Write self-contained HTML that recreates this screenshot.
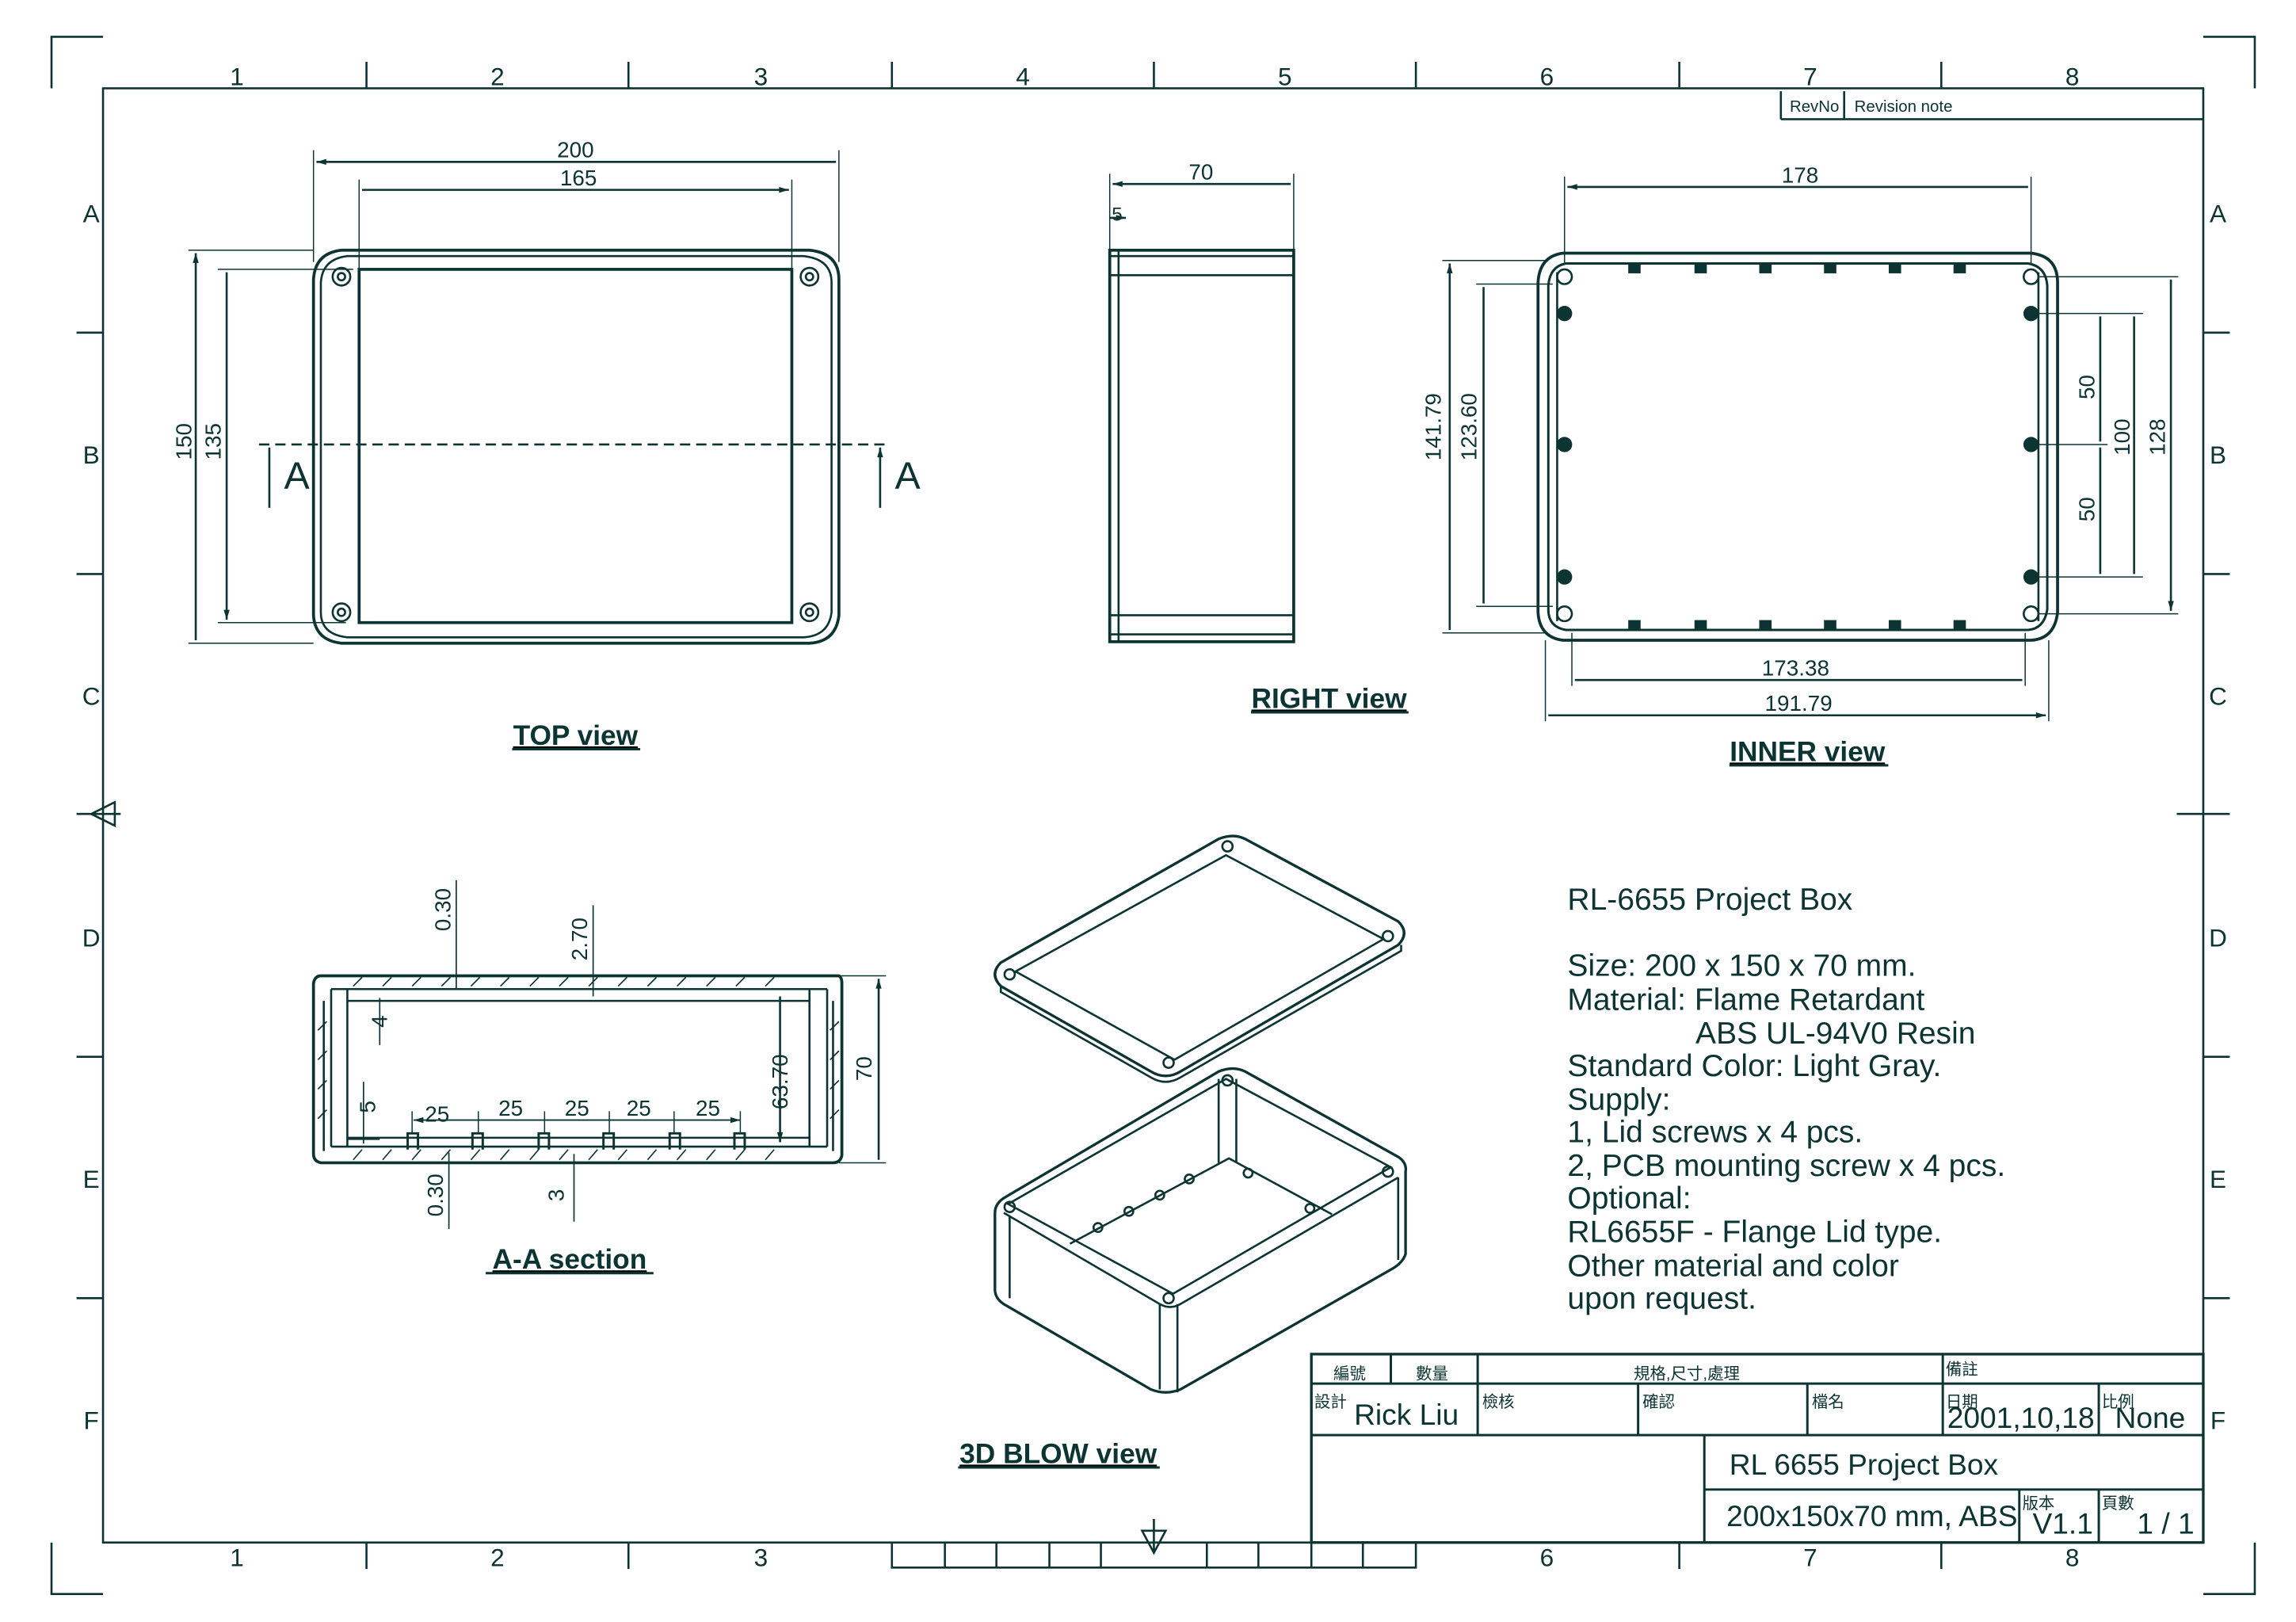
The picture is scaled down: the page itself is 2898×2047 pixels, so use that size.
<!DOCTYPE html>
<html><head><meta charset="utf-8"><style>
html,body{margin:0;padding:0;background:#fff;}
svg{display:block;}
text{font-family:"Liberation Sans","Noto Sans CJK TC",sans-serif;fill:#0c3432;}
</style></head><body>
<svg width="2898" height="2047" viewBox="0 0 1560 1102" preserveAspectRatio="none" xmlns="http://www.w3.org/2000/svg">
<defs>
<marker id="ar" viewBox="0 0 10 6" refX="10" refY="3" markerWidth="8" markerHeight="4" orient="auto-start-reverse" markerUnits="userSpaceOnUse"><path d="M0,0 L10,3 L0,6z" fill="#0c3432"/></marker>
</defs>
<g stroke="#0c3432" fill="none" stroke-width="1.4">
<!-- corner marks -->
<path d="M35,60 V25 H70 M1497,25 H1532 V60 M35,1048 V1083 H70 M1497,1083 H1532 V1048"/>
<!-- frame -->
<rect x="70" y="60" width="1427" height="988"/>
<!-- top/bottom ticks -->
<path d="M249,42V60 M427,42V60 M606,42V60 M784,42V60 M962,42V60 M1141,42V60 M1319,42V60"/>
<path d="M249,1048V1066 M427,1048V1066 M1141,1048V1066 M1319,1048V1066"/>
<path d="M606,1048V1065H962V1048 M642,1048V1065 M677,1048V1065 M713,1048V1065 M748,1048V1065 M820,1048V1065 M855,1048V1065 M891,1048V1065 M926,1048V1065"/>
<path d="M784,1032V1055 M776,1040L784,1055L792,1040Z"/>
<!-- side ticks -->
<path d="M52,226H70 M52,390H70 M52,718H70 M52,882H70 M1497,226H1515 M1497,390H1515 M1497,718H1515 M1497,882H1515 M1479,553H1515"/>
<path d="M52,553H82 M62,553L78,545V561Z"/>
<!-- rev table -->
<path d="M1210,81V62 M1210,81H1497 M1253,62V81"/>

<!-- TOP view -->
<path d="M232,170H550 Q570,172 570,190 V418 Q568,436 550,437 H232 Q214,435 213,418 V190 Q214,172 232,170Z" stroke-width="2"/>
<path d="M236,174H546 Q565,176 565,192 V416 Q563,432 546,433 H236 Q218,431 218,416 V192 Q219,176 236,174Z"/>
<rect x="244" y="183" width="294" height="240" stroke-width="2"/>
<g><circle cx="232" cy="188" r="6"/><circle cx="232" cy="188" r="2.5"/><circle cx="550" cy="188" r="6"/><circle cx="550" cy="188" r="2.5"/><circle cx="232" cy="416" r="6"/><circle cx="232" cy="416" r="2.5"/><circle cx="550" cy="416" r="6"/><circle cx="550" cy="416" r="2.5"/></g>
<path d="M213,102V178 M570,102V178 M244,122V183 M538,122V183" stroke-width="0.8"/>
<path d="M215,110H568 M246,129H536" marker-start="url(#ar)" marker-end="url(#ar)"/>
<path d="M128,170H213 M148,183H240 M128,437H213 M148,423H235" stroke-width="0.8"/>
<path d="M133,172V435 M154,185V421" marker-start="url(#ar)" marker-end="url(#ar)"/>
<path d="M176,302H605" stroke-dasharray="7,4"/>
<path d="M183,345V304 M598,345V304" marker-end="url(#ar)"/>

<!-- RIGHT view -->
<rect x="754" y="170" width="125" height="266" stroke-width="2"/>
<path d="M754,187H879 M754,174H879 M754,418H879 M754,431H879 M760,170V436"/>
<path d="M754,118V170 M879,118V170" stroke-width="0.8"/>
<path d="M756,125H877 M754,148H765" marker-start="url(#ar)" marker-end="url(#ar)"/>

<!-- INNER view -->
<path d="M1062,172H1380 Q1398,174 1398,192 V416 Q1396,434 1380,435 H1062 Q1046,433 1045,416 V192 Q1046,174 1062,172Z" stroke-width="2"/>
<path d="M1064,179H1378 Q1390,181 1391,194 V414 Q1389,427 1378,428 H1064 Q1052,426 1052,414 V194 Q1053,181 1064,179Z" stroke-width="1.6"/>
<path d="M1058,185V422 M1385,185V422"/>
<g fill="#0c3432">
<circle cx="1063" cy="213" r="4.5"/><circle cx="1063" cy="302" r="4.5"/><circle cx="1063" cy="392" r="4.5"/>
<circle cx="1380" cy="213" r="4.5"/><circle cx="1380" cy="302" r="4.5"/><circle cx="1380" cy="392" r="4.5"/>
<rect x="1107" y="179" width="7" height="6"/><rect x="1152" y="179" width="7" height="6"/><rect x="1196" y="179" width="7" height="6"/><rect x="1240" y="179" width="7" height="6"/><rect x="1284" y="179" width="7" height="6"/><rect x="1328" y="179" width="7" height="6"/>
<rect x="1107" y="422" width="7" height="6"/><rect x="1152" y="422" width="7" height="6"/><rect x="1196" y="422" width="7" height="6"/><rect x="1240" y="422" width="7" height="6"/><rect x="1284" y="422" width="7" height="6"/><rect x="1328" y="422" width="7" height="6"/>
</g>
<circle cx="1063" cy="188" r="5"/><circle cx="1380" cy="188" r="5"/><circle cx="1063" cy="417" r="5"/><circle cx="1380" cy="417" r="5"/>
<path d="M1063,120V180 M1380,120V180 M1068,430V466 M1376,430V466 M1050,435V490 M1392,435V490" stroke-width="0.8"/>
<path d="M1065,127H1378 M1070,462H1374 M1052,486H1390" marker-start="url(#ar)" marker-end="url(#ar)"/>
<path d="M980,177H1050 M1003,193H1055 M980,430H1050 M1003,412H1055 M1380,213H1432 M1380,302H1432 M1380,392H1456 M1385,188H1480 M1385,417H1480 M1432,213H1456" stroke-width="0.8"/>
<path d="M985,179V428 M1008,195V410 M1427,215V300 M1427,304V390 M1450,215V390 M1475,190V415" marker-start="url(#ar)" marker-end="url(#ar)"/>

<!-- A-A section -->
<path d="M218,663H570 Q572,664 572,668 V785 Q571,790 566,790 H218 Q213,789 213,784 V668 Q214,663 218,663Z" stroke-width="2"/>
<path d="M225,672H562 M236,680H550 M225,779H562 M236,773H550 M225,672V779 M236,672V779 M550,672V779 M562,672V779 M220,680V782 M566,680V782"/>
<path d="M240,670l6,-6 M260,670l6,-6 M280,670l6,-6 M300,670l6,-6 M320,670l6,-6 M340,670l6,-6 M360,670l6,-6 M380,670l6,-6 M400,670l6,-6 M420,670l6,-6 M440,670l6,-6 M460,670l6,-6 M480,670l6,-6 M500,670l6,-6 M520,670l6,-6 M240,788l6,-7 M260,788l6,-7 M280,788l6,-7 M300,788l6,-7 M320,788l6,-7 M340,788l6,-7 M360,788l6,-7 M380,788l6,-7 M400,788l6,-7 M420,788l6,-7 M440,788l6,-7 M460,788l6,-7 M480,788l6,-7 M500,788l6,-7 M520,788l6,-7 M216,700l6,-6 M216,720l6,-6 M216,740l6,-6 M216,760l6,-6 M564,700l6,-6 M564,720l6,-6 M564,740l6,-6 M564,760l6,-6" stroke-width="0.9"/>
<path d="M277,781V770H284V781 M321,781V770H328V781 M366,781V770H373V781 M410,781V770H417V781 M455,781V770H462V781 M499,781V770H506V781" stroke-width="1.6"/>
<path d="M570,663H602 M570,790H602 M280,770V755 M325,770V755 M370,770V755 M414,770V755 M458,770V755 M503,770V755" stroke-width="0.8"/>
<path d="M597,665V788 M530,677V776" marker-start="url(#ar)" marker-end="url(#ar)"/>
<path d="M281,761H325 M325,761H370 M370,761H414 M414,761H458 M458,761H503" marker-start="url(#ar)" marker-end="url(#ar)" stroke-width="1"/>
<path d="M310,598V672 M403,615V677 M258,678V710 M247,735V777 M236,774H258 M305,835V783 M390,830V784" stroke-width="0.9"/>

<!-- 3D lid -->
<path d="M828,570 Q838,566 846,570 L950,626 Q958,634 950,642 L802,728 Q792,734 782,728 L680,670 Q672,662 680,654Z" stroke-width="1.8"/>
<path d="M680,670 L680,674 L782,732 Q792,738 802,732 L952,646 L952,642"/>
<path d="M833,581 L940,638 L798,720 L690,660Z"/>
<circle cx="834" cy="575" r="3.5"/><circle cx="943" cy="636" r="3.5"/><circle cx="794" cy="722" r="3.5"/><circle cx="686" cy="662" r="3.5"/>
<!-- 3D box -->
<path d="M828,728 Q838,724 846,728 L950,786 Q956,790 955,796 V852 Q953,858 946,862 L802,944 Q792,948 782,944 L682,886 Q676,882 676,876 V824 Q676,818 682,814Z" stroke-width="1.8"/>
<path d="M682,824 L788,886 Q795,890 802,886 L950,800 M788,886V944 M800,886V946 M686,826V882 M950,800V856"/>
<path d="M833,733 L945,793 L797,879 L685,818Z"/>
<path d="M828,733V790 M840,733V790 M727,845 L835,787 L905,825 M835,787"/>
<circle cx="834" cy="734" r="3.5"/><circle cx="943" cy="796" r="3.5"/><circle cx="794" cy="882" r="3.5"/><circle cx="686" cy="820" r="3.5"/>
<circle cx="746" cy="834" r="3"/><circle cx="767" cy="823" r="3"/><circle cx="788" cy="812" r="3"/><circle cx="808" cy="801" r="3"/><circle cx="848" cy="797" r="3"/><circle cx="890" cy="821" r="3"/>

<!-- title block -->
<rect x="891" y="920" width="606" height="128" stroke-width="1.8"/>
<path d="M891,940H1497 M891,975H1497 M1158,1012H1497 M945,920V940 M1004,920V975 M1320,920V975 M1113,940V975 M1228,940V975 M1426,940V975 M1158,975V1048 M1372,1012V1048 M1426,1012V1048" stroke-width="1.6"/>
</g>

<!-- texts -->
<g font-size="17" text-anchor="middle">
<text x="161" y="58">1</text><text x="338" y="58">2</text><text x="517" y="58">3</text><text x="695" y="58">4</text><text x="873" y="58">5</text><text x="1051" y="58">6</text><text x="1230" y="58">7</text><text x="1408" y="58">8</text>
<text x="161" y="1064">1</text><text x="338" y="1064">2</text><text x="517" y="1064">3</text><text x="1051" y="1064">6</text><text x="1230" y="1064">7</text><text x="1408" y="1064">8</text>
<text x="62" y="151">A</text><text x="62" y="315">B</text><text x="62" y="479">C</text><text x="62" y="643">D</text><text x="62" y="807">E</text><text x="62" y="971">F</text>
<text x="1507" y="151">A</text><text x="1507" y="315">B</text><text x="1507" y="479">C</text><text x="1507" y="643">D</text><text x="1507" y="807">E</text><text x="1507" y="971">F</text>
</g>
<text x="1216" y="76" font-size="11">RevNo</text><text x="1260" y="76" font-size="11">Revision note</text>
<g font-size="15" text-anchor="middle">
<text x="391" y="107">200</text><text x="393" y="126">165</text>
<text x="816" y="122">70</text><text x="759" y="150" font-size="13">5</text>
<text x="1223" y="124">178</text><text x="1220" y="459">173.38</text><text x="1222" y="483">191.79</text>
<text x="297" y="762">25</text><text x="347" y="758">25</text><text x="392" y="758">25</text><text x="434" y="758">25</text><text x="481" y="758">25</text>
<text transform="translate(130,300) rotate(-90)">150</text>
<text transform="translate(150,300) rotate(-90)">135</text>
<text transform="translate(979,290) rotate(-90)">141.79</text>
<text transform="translate(1003,290) rotate(-90)">123.60</text>
<text transform="translate(1423,263) rotate(-90)">50</text>
<text transform="translate(1423,346) rotate(-90)">50</text>
<text transform="translate(1447,297) rotate(-90)">100</text>
<text transform="translate(1471,297) rotate(-90)">128</text>
<text transform="translate(306,618) rotate(-90)">0.30</text>
<text transform="translate(399,638) rotate(-90)">2.70</text>
<text transform="translate(263,694) rotate(-90)">4</text>
<text transform="translate(255,752) rotate(-90)">5</text>
<text transform="translate(535,735) rotate(-90)">63.70</text>
<text transform="translate(592,726) rotate(-90)">70</text>
<text transform="translate(301,812) rotate(-90)">0.30</text>
<text transform="translate(383,812) rotate(-90)">3</text>
</g>
<g font-size="26"><text x="193" y="332">A</text><text x="608" y="332">A</text></g>
<g font-size="19" font-weight="bold" text-anchor="middle" text-decoration="underline">
<text x="391" y="506">TOP view</text><text x="903" y="481">RIGHT view</text><text x="1228" y="517">INNER view</text>
<text x="387" y="862">A-A section</text><text x="719" y="994">3D BLOW view</text>
</g>
<path d="M348,509H435 M850,484H957 M1175,520H1283 M330,865H444 M651,997H788" stroke="#0c3432" stroke-width="1.6"/>
<g font-size="21">
<text x="1065" y="618">RL-6655 Project Box</text>
<text x="1065" y="663">Size: 200 x 150 x 70 mm.</text>
<text x="1065" y="686">Material: Flame Retardant</text>
<text x="1152" y="709">ABS UL-94V0 Resin</text>
<text x="1065" y="731">Standard Color: Light Gray.</text>
<text x="1065" y="754">Supply:</text>
<text x="1065" y="776">1, Lid screws x 4 pcs.</text>
<text x="1065" y="799">2, PCB mounting screw x 4 pcs.</text>
<text x="1065" y="821">Optional:</text>
<text x="1065" y="844">RL6655F - Flange Lid type.</text>
<text x="1065" y="867">Other material and color</text>
<text x="1065" y="889">upon request.</text>
</g>
<g font-size="11">
<text x="906" y="937">編號</text><text x="962" y="937">數量</text><text x="1110" y="937">規格,尺寸,處理</text><text x="1322" y="934">備註</text>
<text x="893" y="956">設計</text><text x="1007" y="956">檢核</text><text x="1116" y="956">確認</text><text x="1231" y="956">檔名</text><text x="1322" y="956">日期</text><text x="1428" y="956">比例</text>
<text x="1374" y="1025">版本</text><text x="1428" y="1025">頁數</text>
</g>
<g font-size="20">
<text x="920" y="968">Rick Liu</text><text x="1323" y="970">2001,10,18</text><text x="1437" y="970">None</text>
<text x="1175" y="1002">RL 6655 Project Box</text>
<text x="1173" y="1037">200x150x70 mm, ABS</text><text x="1381" y="1042">V1.1</text><text x="1452" y="1042">1 / 1</text>
</g>
</svg>
</body></html>
